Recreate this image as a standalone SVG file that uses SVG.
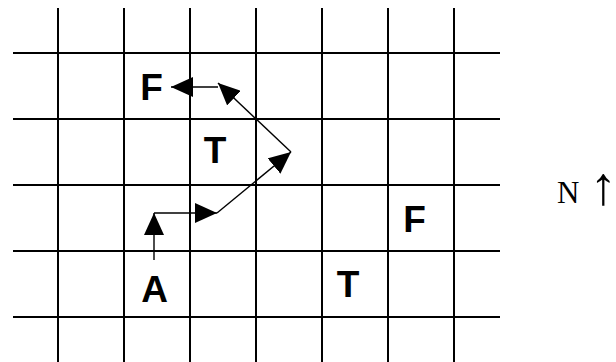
<svg xmlns="http://www.w3.org/2000/svg" width="616" height="362" viewBox="0 0 616 362">
  <style>
    .grid line { stroke: #000; stroke-width: 2; }
    .arrow { fill: none; stroke: #000; stroke-width: 1.4; marker-end: url(#head); }
    .lbl { font-family: "Liberation Sans", Arial, sans-serif; font-weight: bold; font-size: 37px; fill: #000; text-anchor: middle; }
    .north { font-family: "Liberation Serif", "Times New Roman", serif; font-size: 31px; fill: #000; }
    .north .up { font-size: 54px; }
  </style>
  <defs>
    <marker id="head" markerUnits="userSpaceOnUse" markerWidth="22" markerHeight="20" refX="22" refY="10" orient="auto" viewBox="0 0 22 20">
      <path d="M0,0 L22,10 L0,20 Z" fill="#000"/>
    </marker>
  </defs>
  <rect width="616" height="362" fill="#fff"/>
  <g id="grid" class="grid">
    <line x1="58" y1="8" x2="58" y2="362"/>
    <line x1="124" y1="8" x2="124" y2="362"/>
    <line x1="190" y1="8" x2="190" y2="362"/>
    <line x1="256" y1="8" x2="256" y2="362"/>
    <line x1="322" y1="8" x2="322" y2="362"/>
    <line x1="388" y1="8" x2="388" y2="362"/>
    <line x1="454" y1="8" x2="454" y2="362"/>
    <line x1="13" y1="53" x2="500" y2="53"/>
    <line x1="13" y1="119" x2="500" y2="119"/>
    <line x1="13" y1="185" x2="500" y2="185"/>
    <line x1="13" y1="251" x2="500" y2="251"/>
    <line x1="13" y1="317" x2="500" y2="317"/>
  </g>
  <g id="connectors">
    <path class="arrow" d="M154,260 L154,213"/>
    <path class="arrow" d="M154,213 L217,213"/>
    <path class="arrow" d="M217,213 L291,152"/>
    <path class="arrow" d="M291,152 L218,83"/>
    <path class="arrow" d="M218,87 L171,87"/>
  </g>
  <g id="node-A"><text class="lbl" x="154.5" y="302">A</text></g>
  <g id="node-T1"><text class="lbl" x="215" y="163">T</text></g>
  <g id="node-F1"><text class="lbl" x="151.5" y="99.5">F</text></g>
  <g id="node-F2"><text class="lbl" x="414.5" y="232">F</text></g>
  <g id="node-T2"><text class="lbl" x="348" y="297">T</text></g>
  <g id="north"><text class="north" x="557" y="203">N<tspan class="up" x="590" y="204">↑</tspan></text></g>
</svg>
